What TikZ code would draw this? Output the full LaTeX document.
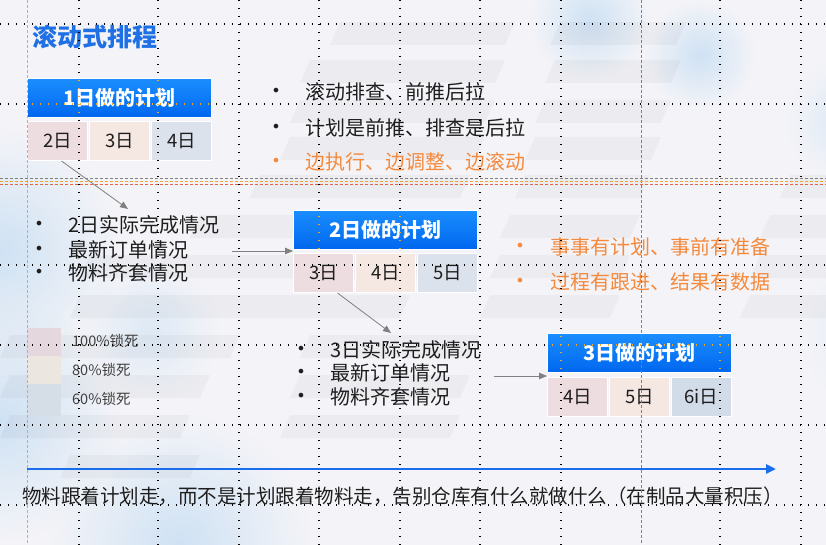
\documentclass[tikz,border=0pt]{standalone}
\usepackage{fontspec}
\setmainfont{Noto Sans CJK SC}
\newfontfamily\bulfont{DejaVu Sans}
\usetikzlibrary{arrows.meta,fadings}
\definecolor{bg}{HTML}{F4F4F8}
\definecolor{titleblue}{HTML}{1F6FE5}
\definecolor{hdrtop}{HTML}{1A8EFF}
\definecolor{hdrbot}{HTML}{0066EE}
\definecolor{cpink}{HTML}{EDDDE0}
\definecolor{cbeige}{HTML}{F5E8E3}
\definecolor{cblue}{HTML}{DCE2EC}
\definecolor{cblueb}{HTML}{D2DCE8}
\definecolor{lpink}{HTML}{E4D8DE}
\definecolor{lbeige}{HTML}{EBE6DF}
\definecolor{lblue}{HTML}{D5DEE7}
\definecolor{orangetxt}{HTML}{F5893C}
\definecolor{txt}{HTML}{1E1E1E}
\definecolor{lineblue}{HTML}{1A6DEB}
\definecolor{agray}{HTML}{808080}
\definecolor{guideorange}{HTML}{F5A623}
\definecolor{guidered}{HTML}{E8643C}
\definecolor{skyblue}{HTML}{CFE2F4}
\newcommand\setfs[1]{\fontsize{#1}{#1}\selectfont}
\tikzfading[name=softdisc, inner color=transparent!0, outer color=transparent!100]
\begin{document}
\begin{tikzpicture}[x=1pt,y=-1pt,
  hdr/.style={draw=white, line width=1pt, inner sep=0pt, minimum width=184pt, minimum height=39pt,
    top color=hdrtop, bottom color=hdrbot, text=white, font=\setfs{20}\bfseries, anchor=north west},
  cellbox/.style={draw=white, line width=1pt, inner sep=0pt, minimum width=60pt, minimum height=39pt,
    anchor=north west, text=txt, font=\setfs{18.5}},
  bul/.style={inner sep=0pt, anchor=center, font=\bulfont\fontsize{16}{16}\selectfont},
  btxt/.style={inner sep=0pt, anchor=west, text=txt, font=\setfs{20}},
  otxt/.style={inner sep=0pt, anchor=west, text=orangetxt, font=\setfs{20}},
  legbox/.style={inner sep=0pt, minimum width=34pt, anchor=north west},
  legtxt/.style={inner sep=0pt, anchor=west, text=black!75, font=\setfs{14.5}},
  garrow/.style={draw=agray, line width=0.8pt, -{Triangle[length=8pt,width=6.5pt]}},
  stripe/.style={fill=black, opacity=0.03},
  blob/.style={fill=skyblue, path fading=softdisc},
  guide/.style={line width=1.3pt, dash pattern=on 1.3pt off 6.7pt}
]
\useasboundingbox (0,0) rectangle (826,545);
% background
\fill[bg] (0,0) rectangle (826,545);
\begin{scope}
\clip (0,0) rectangle (826,545);
\fill[blob] (0,250) circle (120);
\fill[blob] (0,420) circle (120);
\fill[blob] (180,545) circle (130);
\fill[blob] (590,20) circle (60);
\fill[blob] (700,55) circle (55);
\fill[blob, opacity=0.6] (845,120) circle (60);
\fill[blob, opacity=0.6] (150,330) circle (70);
\fill[blob, opacity=0.5] (880,330) circle (80);
% stripes
\foreach \xa/\xb/\yy in {330/505/22, 550/676/22, 300/495/60, 545/671/60, 290/485/100, 535/661/100,
  280/475/137, 525/651/137, 250/460/175, 515/640/175, 780/860/175, 190/430/215, 500/630/215, 760/860/215,
  80/420/255, 490/620/255, 750/860/255, 70/400/295, 480/610/295, 740/860/295, 0/230/335, 300/470/335,
  0/200/375, 290/460/375, 0/180/415, 280/450/415, 60/190/455}
  \fill[stripe] (\xa+10,\yy) -- (\xb+10,\yy) -- (\xb,\yy+23) -- (\xa,\yy+23) -- cycle;
\end{scope}

% title
\node[inner sep=0pt, anchor=west, text=titleblue, font=\setfs{25}\bfseries] (title) at (32,37) {滚动式排程};

% plan box 1
\node[hdr] (b1h) at (27,78) {1日做的计划};
\node[cellbox, fill=cpink]  (b1c1) at (27,121) {2日};
\node[cellbox, fill=cbeige] (b1c2) at (89,121) {3日};
\node[cellbox, fill=cblue]  (b1c3) at (151,121) {4日};

% top right bullets
\node[bul, text=txt] (t1b) at (276,92) {•};
\node[btxt] (t1) at (305,92) {滚动排查、前推后拉};
\node[bul, text=txt] (t2b) at (276,128) {•};
\node[btxt] (t2) at (305,128) {计划是前推、排查是后拉};
\node[bul, text=orangetxt] (t3b) at (276,162) {•};
\node[otxt] (t3) at (305,162) {边执行、边调整、边滚动};

% bullets list 1
\node[bul, text=txt] (m1b) at (39,225) {•};
\node[btxt] (m1) at (68,225) {2日实际完成情况};
\node[bul, text=txt] (m2b) at (39,250) {•};
\node[btxt] (m2) at (68,250) {最新订单情况};
\node[bul, text=txt] (m3b) at (39,273) {•};
\node[btxt] (m3) at (68,273) {物料齐套情况};

% plan box 2
\node[hdr] (b2h) at (293,210) {2日做的计划};
\node[cellbox, fill=cpink]  (b2c1) at (293,253) {3日};
\node[cellbox, fill=cbeige] (b2c2) at (355,253) {4日};
\node[cellbox, fill=cblue]  (b2c3) at (417,253) {5日};

% orange bullets
\node[bul, text=orangetxt] (o1b) at (520,247) {•};
\node[otxt] (o1) at (550,247) {事事有计划、事前有准备};
\node[bul, text=orangetxt] (o2b) at (520,282) {•};
\node[otxt] (o2) at (550,282) {过程有跟进、结果有数据};

% bullets list 2
\node[bul, text=txt] (n1b) at (301,350) {•};
\node[btxt] (n1) at (330,350) {3日实际完成情况};
\node[bul, text=txt] (n2b) at (301,373) {•};
\node[btxt] (n2) at (330,373) {最新订单情况};
\node[bul, text=txt] (n3b) at (301,397) {•};
\node[btxt] (n3) at (330,397) {物料齐套情况};

% plan box 3
\node[hdr] (b3h) at (547,333) {3日做的计划};
\node[cellbox, fill=cpink]  (b3c1) at (547,377) {4日};
\node[cellbox, fill=cbeige] (b3c2) at (609,377) {5日};
\node[cellbox, fill=cblueb] (b3c3) at (671,377) {6i日};

% legend
\node[legbox, minimum height=28pt, fill=lpink] (l1) at (27,328) {};
\node[legbox, minimum height=28pt, fill=lbeige] (l2) at (27,356) {};
\node[legbox, minimum height=32pt, fill=lblue] (l3) at (27,384) {};
\node[legtxt] (l1t) at (72,341) {100\%锁死};
\node[legtxt] (l2t) at (72,370) {80\%锁死};
\node[legtxt] (l3t) at (72,399) {60\%锁死};

% connectors
\coordinate (a1e) at (128,209);
\draw[garrow] ([xshift=4pt]b1c1.south) -- (a1e);
\coordinate (a2s) at (232,251);
\draw[garrow] (a2s) -- (a2s -| b2h.west);
\coordinate (a3e) at (391,333);
\draw[garrow] ([xshift=14pt]b2c1.south) -- (a3e);
\coordinate (a4s) at (494,376);
\draw[garrow] (a4s) -- (a4s -| b3h.west);

% timeline
\coordinate (ts) at (27,469);
\coordinate (te) at (776,469);
\draw[lineblue, line width=2.5pt, -{Triangle[length=10pt,width=9pt]}] (ts) -- (te);
\node[inner sep=0pt, anchor=west, text=txt, font=\setfs{19.5}] (bottom) at (22,496)
  {物料跟着计划走，而不是计划跟着物料走，告别仓库有什么就做什么（在制品大量积压）};

% guides
\foreach \gx in {79,158,239,319,400,480,561,720,801}
  \draw[guide, draw=black] (\gx,0) -- (\gx,545);
\foreach \gy in {24,104,265,345,425,505}
  \draw[guide, draw=black] (0,\gy) -- (826,\gy);
\foreach \hh in {b1h,b2h,b3h} {
  \begin{scope}
  \clip (\hh.south west) rectangle (\hh.north east);
  \foreach \gx in {79,158,239,319,400,480,561,720,801}
    \draw[guide, draw=guideorange] (\gx,0) -- (\gx,545);
  \foreach \gy in {24,104,265,345,425,505}
    \draw[guide, draw=guideorange] (0,\gy) -- (826,\gy);
  \end{scope}
}
\draw[agray, line width=0.8pt, dash pattern=on 3pt off 2pt] (641,0) -- (641,545);
\draw[agray, line width=0.8pt, dash pattern=on 3pt off 2pt] (0,178) -- (826,178);
\draw[guideorange, line width=0.9pt, dash pattern=on 3pt off 2pt] (0,181) -- (826,181);
\draw[guidered, line width=0.9pt, dash pattern=on 3pt off 2pt] (0,184.5) -- (826,184.5);
\draw[guideorange, line width=0.9pt, dash pattern=on 3pt off 2pt] (27,0) -- (27,545);
\end{tikzpicture}
\end{document}
